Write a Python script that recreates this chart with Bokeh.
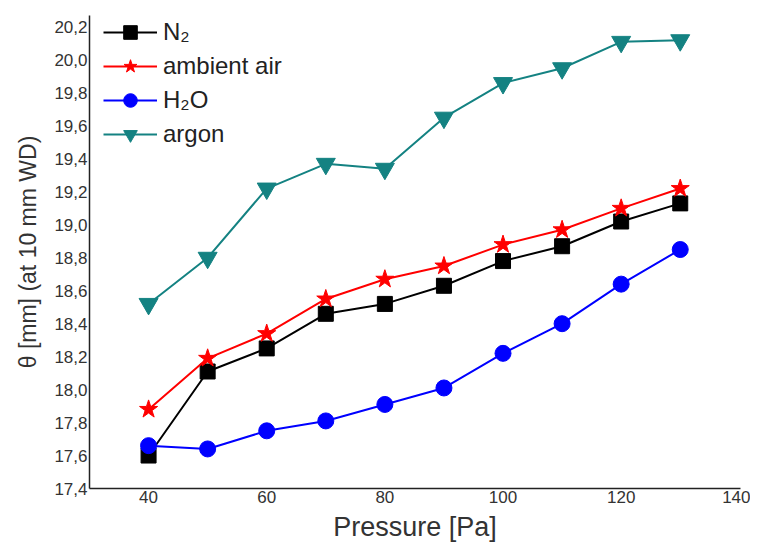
from bokeh.plotting import figure
from bokeh.models import Range1d, FixedTicker, CustomJSTickFormatter
from bokeh.embed import file_html
from bokeh.resources import INLINE

pressure = [40, 50, 60, 70, 80, 90, 100, 110, 120, 130]
n2 = [17.60, 18.11, 18.25, 18.46, 18.52, 18.63, 18.78, 18.87, 19.02, 19.13]
ambient_air = [17.88, 18.19, 18.34, 18.55, 18.67, 18.75, 18.88, 18.97, 19.10, 19.22]
h2o = [17.66, 17.64, 17.75, 17.81, 17.91, 18.01, 18.22, 18.40, 18.64, 18.85]
argon = [18.52, 18.80, 19.22, 19.37, 19.34, 19.65, 19.86, 19.95, 20.11, 20.12]

x_ticks = [40, 60, 80, 100, 120, 140]
y_ticks = [17.4, 17.6, 17.8, 18.0, 18.2, 18.4, 18.6, 18.8, 19.0, 19.2, 19.4, 19.6, 19.8, 20.0, 20.2]

FONT = "Liberation Sans"

p = figure(width=750, height=544, output_backend="svg", toolbar_location=None,
           x_range=Range1d(30, 140.2), y_range=Range1d(17.4, 20.27),
           min_border_left=89, min_border_right=10, min_border_top=15, min_border_bottom=56)
p.outline_line_color = None
p.xgrid.visible = False
p.ygrid.visible = False

series = [
    ("N₂", n2, "black", "square", 15),
    ("ambient air", ambient_air, "#ff0000", "star", 19),
    ("H₂O", h2o, "#0000ff", "circle", 16),
    ("argon", argon, "#148282", "inverted_triangle", 19),
]
for label, ys, color, marker, size in series:
    p.line(pressure, ys, line_color=color, line_width=2, legend_label=label)
    p.scatter(pressure, ys, marker=marker, size=size, fill_color=color,
              line_color=color, legend_label=label)

for ax in (p.xaxis[0], p.yaxis[0]):
    ax.axis_line_color = "#222222"
    ax.axis_line_width = 1.5
    ax.major_tick_in = 0
    ax.major_tick_out = 0
    ax.minor_tick_in = 0
    ax.minor_tick_out = 0
    ax.major_label_text_font = FONT
    ax.major_label_text_font_size = "17px"
    ax.major_label_text_color = "#333333"
    ax.axis_label_text_font = FONT
    ax.axis_label_text_font_style = "normal"
    ax.axis_label_text_color = "#333333"
    ax.major_label_standoff = 2

p.xaxis.axis_label_text_font_size = "27px"
p.yaxis.axis_label_text_font_size = "23px"
p.xaxis.ticker = FixedTicker(ticks=x_ticks)
p.yaxis.ticker = FixedTicker(ticks=y_ticks)
p.yaxis.formatter = CustomJSTickFormatter(code="return tick.toFixed(1).replace('.', ',')")
p.xaxis.axis_label = "Pressure [Pa]"
p.yaxis.axis_label = "θ [mm] (at 10 mm WD)"
p.xaxis.axis_label_standoff = 6
p.yaxis.axis_label_standoff = 10

lg = p.legend[0]
lg.location = (14, 337)
lg.padding = 0
lg.margin = 0
lg.spacing = 0
lg.glyph_width = 54
lg.glyph_height = 34
lg.label_height = 34
lg.label_standoff = 6
lg.label_text_font = FONT
lg.label_text_font_size = "24px"
lg.label_text_color = "#222222"
lg.background_fill_alpha = 0
lg.border_line_alpha = 0

open("out.html", "w").write(file_html(p, INLINE))
